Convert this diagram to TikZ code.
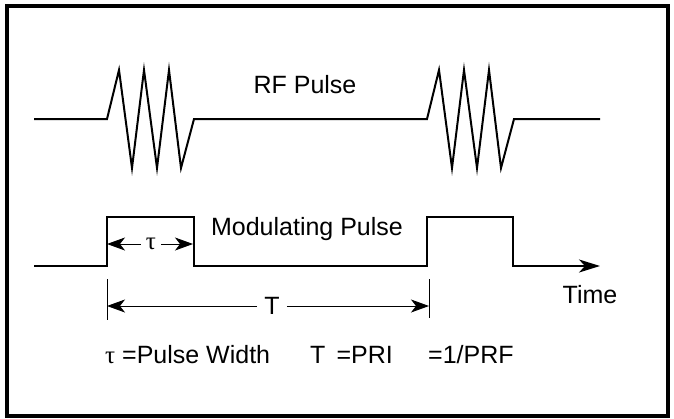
\documentclass[tikz,border=0pt]{standalone}
\usepackage{fontspec}
\setmainfont{Liberation Sans}
\newfontfamily\symfont{Liberation Serif}
\usetikzlibrary{arrows.meta}
\begin{document}
\begin{tikzpicture}[x=1pt,y=-1pt,
    tip/.tip={Stealth[length=18pt,width=13pt,inset=5pt]},
    bigtip/.tip={Stealth[length=21pt,width=13pt,inset=6pt]},
    sig/.style={line width=2pt,line join=miter},
    dim/.style={line width=0.9pt},
    lbl/.style={font=\fontsize{25}{30}\selectfont,inner sep=0pt}]
    \useasboundingbox (0,0) rectangle (674,418);
    \draw[line width=3.5pt] (7,6) rectangle (668,416);
    % RF pulse train
    \draw[sig] (34,119) -- (107,119) -- (119,70) -- (132,168) -- (144,70) -- (157,168)
      -- (169,70) -- (181,168) -- (194,119) -- (427,119) -- (439,70) -- (452,168)
      -- (464,70) -- (477,168) -- (489,70) -- (501,168) -- (514,119) -- (600,119);
    % modulating pulse train
    \draw[sig,-bigtip] (34,266) -- (107,266)
      -- (107,217) -- (194,217) -- (194,266) -- (427,266) -- (427,217) -- (513,217)
      -- (513,266) -- (600,266);
    \node[lbl,anchor=base] (rf) at (305,93) {RF Pulse};
    \node[lbl,anchor=base] (mod) at (307,235) {Modulating Pulse};
    \node[lbl,anchor=base] (time) at (590,303) {Time};
    % pulse width
    \coordinate (taul) at (107,244);
    \coordinate (taur) at (193,244);
    \node[lbl,inner sep=5pt] (tau) at (151,244) {\symfont τ};
    \draw[dim,-tip] (tau) -- (taul);
    \draw[dim,-tip] (tau) -- (taur);
    % period
    \draw[dim] (107,279) -- (107,320);
    \draw[dim] (429,279) -- (429,318);
    \coordinate (perl) at (107,306);
    \coordinate (perr) at (429,306);
    \node[lbl,inner xsep=7pt] (per) at (272,306) {T};
    \draw[dim,-tip] (per) -- (perl);
    \draw[dim,-tip] (per) -- (perr);
    % legend
    \node[lbl,anchor=base west] (leg1) at (105,363) {{\symfont τ} =Pulse Width};
    \node[lbl,anchor=base west] (leg2) at (310,363) {T\, =PRI};
    \node[lbl,anchor=base west] (leg3) at (428,363) {=1/PRF};
\end{tikzpicture}
\end{document}
